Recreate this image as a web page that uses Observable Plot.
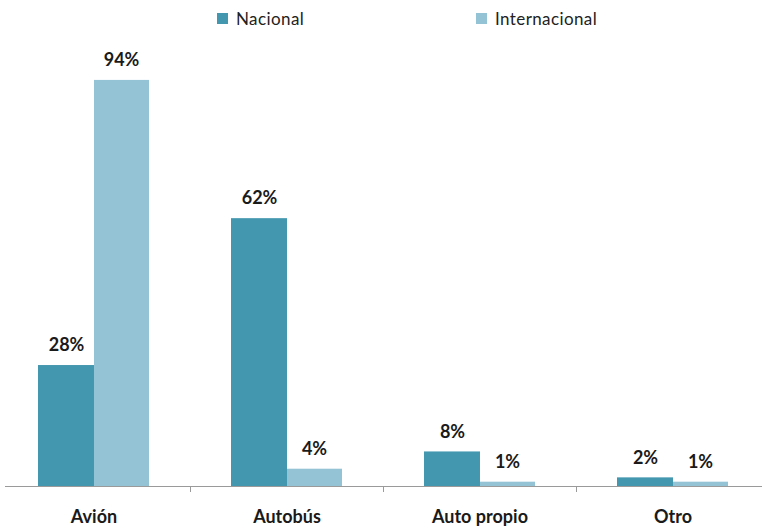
<!DOCTYPE html>
<html><head><meta charset="utf-8">
<script src="https://cdn.jsdelivr.net/npm/d3@7"></script>
<script src="https://cdn.jsdelivr.net/npm/@observablehq/plot@0.6"></script>
<style>
body{margin:0;background:#fff;font-family:Lato,sans-serif;}
#wrap{position:relative;width:762px;height:529px;}
#legend{position:relative;height:40px;width:762px;}
.item{position:absolute;top:8px;display:flex;align-items:center;font-size:17px;color:#222;letter-spacing:0.4px;}
.sw{width:11px;height:11px;margin-right:8px;}
</style></head>
<body><div id="wrap"><div id="legend"></div><div id="chart"></div></div>
<script>
const categories = ["Avión", "Autobús", "Auto propio", "Otro"];
const series = ["Nacional", "Internacional"];
const nacional = [28, 62, 8, 2];
const internacional = [94, 4, 1, 1];
const colors = ["#4397AF", "#93C3D5"];

const data = categories.flatMap((c, i) => [
  {cat: c, series: series[0], value: nacional[i]},
  {cat: c, series: series[1], value: internacional[i]}
]);
const nac = data.filter(d => d.series === series[0]);
const intl = data.filter(d => d.series === series[1]);

// legend
const legend = document.getElementById("legend");
const lx = [217, 476];
series.forEach((s, i) => {
  const it = document.createElement("div");
  it.className = "item";
  it.style.left = lx[i] + "px";
  it.innerHTML = `<span class="sw" style="background:${colors[i]}"></span>${s}`;
  legend.appendChild(it);
});

const labelFont = {fontSize: 18, fontWeight: "bold", fill: "#1a1a1a"};
const chart = Plot.plot({
  width: 762,
  height: 489,
  marginTop: 14,
  marginBottom: 43,
  marginLeft: 5,
  marginRight: 0,
  style: {fontFamily: "Lato, sans-serif", background: "#fff"},
  x: {domain: categories, range: [-3, 769], padding: 0, axis: null},
  y: {domain: [0, 100], axis: null},
  marks: [
    Plot.barY(nac, {x: "cat", y: "value", fill: colors[0], insetLeft: 41, insetRight: 96}),
    Plot.barY(intl, {x: "cat", y: "value", fill: colors[1], insetLeft: 97, insetRight: 41}),
    Plot.text(nac, {x: "cat", y: "value", text: d => d.value + "%", dx: -27.5, dy: -20, ...labelFont}),
    Plot.text(intl, {x: "cat", y: "value", text: d => d.value + "%", dx: 27.5, dy: -20, ...labelFont}),
    Plot.ruleY([0], {stroke: "#9a9a9a", strokeWidth: 1.2}),
    Plot.axisX(categories.slice(0, 3), {tickSize: 6, dx: 96.5, stroke: "#9a9a9a", tickFormat: () => "", label: null}),
    Plot.axisX({tickSize: 0, tickPadding: 24, fontSize: 18, fontWeight: "bold", fill: "#1a1a1a", label: null})
  ]
});
document.getElementById("chart").appendChild(chart);
</script></body></html>
